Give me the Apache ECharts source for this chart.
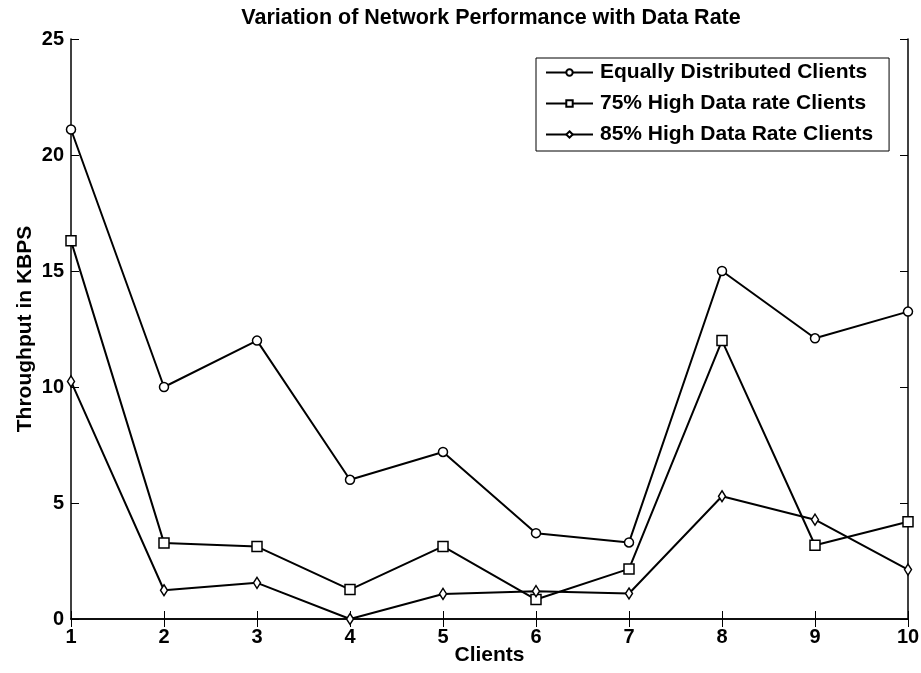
<!DOCTYPE html>
<html>
<head>
<meta charset="utf-8">
<script src="https://cdn.jsdelivr.net/npm/echarts@6/dist/echarts.min.js"></script>
<style>
  html, body { margin: 0; padding: 0; background: #fff; }
  #chart { width: 921px; height: 673px; }
</style>
</head>
<body>
<div id="chart"></div>
<script>
// Client index along the x axis
const clients = [1, 2, 3, 4, 5, 6, 7, 8, 9, 10];

// Throughput (KBPS) per client for each traffic mix
const equallyDistributed = [21.1, 10.0, 12.0, 6.0, 7.2, 3.7, 3.3, 15.0, 12.1, 13.25];
const highRate75 = [16.3, 3.28, 3.12, 1.27, 3.13, 0.84, 2.16, 12.0, 3.18, 4.19];
const highRate85 = [10.24, 1.24, 1.56, 0.0, 1.08, 1.2, 1.1, 5.29, 4.28, 2.13];

const seriesNames = [
  'Equally Distributed Clients',
  '75% High Data rate Clients',
  '85% High Data Rate Clients'
];

const font = 'Liberation Sans, Arial, sans-serif';

function pairs(values) {
  return clients.map((c, i) => [c, values[i]]);
}

function lineSeries(name, values, symbol, size) {
  return {
    name: name,
    type: 'line',
    data: pairs(values),
    symbol: symbol,
    symbolSize: size,
    showAllSymbol: true,
    lineStyle: { color: '#000', width: 2 },
    itemStyle: { color: '#fff', borderColor: '#000', borderWidth: 1.5 },
    emphasis: { disabled: true },
    animation: false,
    z: 3
  };
}

const chart = echarts.init(document.getElementById('chart'), null, { renderer: 'canvas' });

const boldLabel = { color: '#000', fontFamily: font, fontWeight: 'bold', fontSize: 21 };

chart.setOption({
  backgroundColor: '#fff',
  animation: false,
  title: {
    text: 'Variation of Network Performance with Data Rate',
    left: 486,
    textAlign: 'center',
    top: 2,
    textStyle: { color: '#000', fontFamily: font, fontWeight: 'bold', fontSize: 21.5 }
  },
  grid: { left: 71, right: 13, top: 39, bottom: 54, containLabel: false, outerBoundsMode: 'none' },
  legend: {
    orient: 'vertical',
    left: 536,
    top: 58,
    padding: [4, 16, 6, 9],
    itemWidth: 47,
    itemHeight: 8,
    itemGap: 10,
    backgroundColor: '#fff',
    borderColor: '#000',
    borderWidth: 1,
    textStyle: { color: '#000', fontFamily: font, fontWeight: 'bold', fontSize: 21, lineHeight: 21, padding: [0, 0, 0, 2] },
    data: seriesNames
  },
  xAxis: [
    {
      type: 'value', min: 1, max: 10, interval: 1, position: 'bottom',
      name: 'Clients', nameLocation: 'middle', nameGap: 26, nameMoveOverlap: false,
      nameTextStyle: boldLabel,
      axisLine: { show: true, lineStyle: { color: '#000', width: 1.5 } },
      axisTick: { show: true, inside: true, length: 8, lineStyle: { color: '#000' } },
      axisLabel: Object.assign({ margin: 8 }, boldLabel, { fontSize: 20 }),
      splitLine: { show: false }
    },
    {
      type: 'value', min: 1, max: 10, interval: 1, position: 'top',
      axisLine: { show: true, lineStyle: { color: '#000', width: 1.5 } },
      axisTick: { show: true, inside: true, length: 8, lineStyle: { color: '#000' } },
      axisLabel: { show: false },
      splitLine: { show: false }
    }
  ],
  yAxis: [
    {
      type: 'value', min: 0, max: 25, interval: 5, position: 'left',
      name: 'Throughput in KBPS', nameLocation: 'middle', nameGap: 35, nameMoveOverlap: false,
      nameTextStyle: boldLabel,
      axisLine: { show: true, lineStyle: { color: '#000', width: 1.5 } },
      axisTick: { show: true, inside: true, length: 8, lineStyle: { color: '#000' } },
      axisLabel: Object.assign({ margin: 7 }, boldLabel, { fontSize: 20 }),
      splitLine: { show: false }
    },
    {
      type: 'value', min: 0, max: 25, interval: 5, position: 'right',
      axisLine: { show: true, lineStyle: { color: '#000', width: 1.5 } },
      axisTick: { show: true, inside: true, length: 8, lineStyle: { color: '#000' } },
      axisLabel: { show: false },
      splitLine: { show: false }
    }
  ],
  series: [
    lineSeries(seriesNames[0], equallyDistributed, 'circle', 9),
    lineSeries(seriesNames[1], highRate75, 'rect', 10),
    lineSeries(seriesNames[2], highRate85, 'diamond', [7, 11])
  ]
});
</script>
</body>
</html>
